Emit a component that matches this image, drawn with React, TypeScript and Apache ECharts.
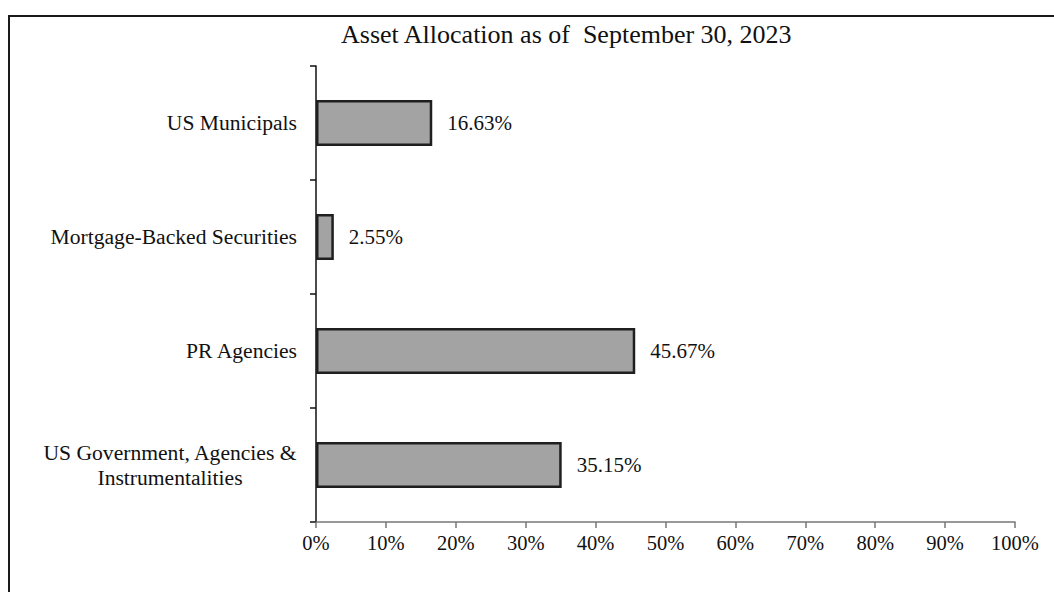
import React, { useEffect, useRef } from "react";
import * as echarts from "echarts";

const titleText = "Asset Allocation as of  September 30, 2023";
const categories = [
  "US Municipals",
  "Mortgage-Backed Securities",
  "PR Agencies",
  "US Government, Agencies &\nInstrumentalities",
];
const values = [16.63, 2.55, 45.67, 35.15];
const xTicks = [0, 10, 20, 30, 40, 50, 60, 70, 80, 90, 100];

const FONT = "'Liberation Serif', 'Times New Roman', serif";

export default function App() {
  const ref = useRef<HTMLDivElement>(null);
  useEffect(() => {
    if (!ref.current) return;
    const chart = echarts.init(ref.current, null, { renderer: "svg" });
    chart.setOption({
      animation: false,
      backgroundColor: "#ffffff",
      textStyle: { fontFamily: FONT },
      title: {
        text: titleText,
        left: 336,
        top: 16,
        textStyle: { fontFamily: FONT, fontSize: 26, fontWeight: "normal", color: "#111" },
      },
      graphic: [
        {
          type: "rect",
          shape: { x: 9, y: 16, width: 1300, height: 800 },
          style: { fill: "none", stroke: "#1a1a1a", lineWidth: 2 },
          silent: true,
        },
      ],
      grid: { left: 316, right: 39, top: 66, bottom: 70, containLabel: false },
      xAxis: {
        type: "value",
        min: xTicks[0],
        max: xTicks[xTicks.length - 1],
        interval: 10,
        splitLine: { show: false },
        axisLine: { show: true, lineStyle: { color: "#777", width: 1.5 } },
        axisTick: { show: true, length: 6, lineStyle: { color: "#777", width: 1.5 } },
        axisLabel: {
          formatter: (v: number) => v + "%",
          fontFamily: FONT,
          fontSize: 20.5,
          color: "#111",
          margin: 10,
        },
      },
      yAxis: {
        type: "category",
        data: categories,
        inverse: true,
        axisLine: { show: true, lineStyle: { color: "#111", width: 1.5 } },
        axisTick: { show: true, length: 6, lineStyle: { color: "#111", width: 1.5 } },
        axisLabel: {
          fontFamily: FONT,
          fontSize: 21.6,
          color: "#111",
          margin: 19,
          lineHeight: 25,
          formatter: (v: string) =>
            v.indexOf("\n") >= 0
              ? v
                  .split("\n")
                  .map((s) => "{c|" + s + "}")
                  .join("\n")
              : v,
          rich: {
            c: {
              width: 254,
              align: "center",
              fontFamily: FONT,
              fontSize: 21.6,
              color: "#111",
              lineHeight: 25,
            },
          },
        },
      },
      series: [
        {
          type: "bar",
          data: values,
          barWidth: 46,
          itemStyle: { color: "#a3a3a3", borderColor: "#1f1f1f", borderWidth: 2.5 },
          label: {
            show: true,
            position: "right",
            distance: 15,
            formatter: (p: any) => p.value.toFixed(2) + "%",
            fontFamily: FONT,
            fontSize: 21,
            color: "#111",
          },
        },
      ],
    });
    return () => chart.dispose();
  }, []);
  return (
    <div
      ref={ref}
      style={{ position: "absolute", left: 0, top: 0, width: 1054, height: 592 }}
    />
  );
}
